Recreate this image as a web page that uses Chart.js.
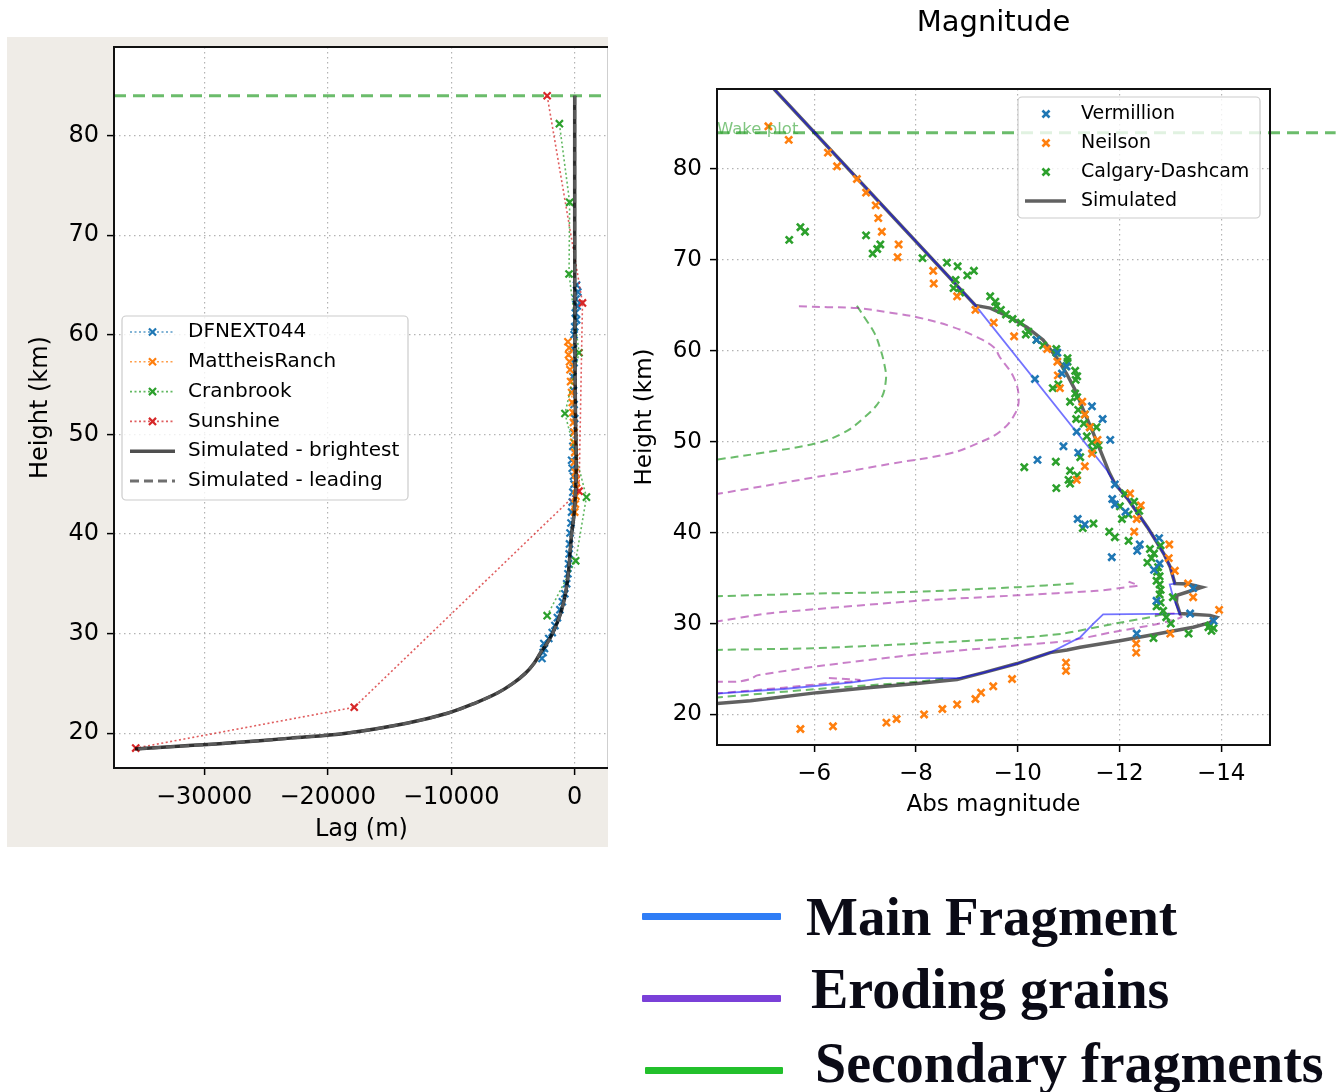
<!DOCTYPE html>
<html>
<head>
<meta charset="utf-8">
<script src="https://cdn.jsdelivr.net/npm/chart.js@4.4.1/dist/chart.umd.min.js"></script>
<style>
  body { margin: 0; background: #fff; width: 1343px; height: 1092px; position: relative; overflow: hidden; }
  #lagBox { position: absolute; left: 7px; top: 37px; width: 601px; height: 810px; background: #efece7; overflow: hidden; }
  #lagInner { position: absolute; left: 0; top: 0; width: 609px; height: 810px; }
  #magBox { position: absolute; left: 620px; top: 0; width: 723px; height: 830px; }
  .swatch { position: absolute; height: 7px; border-radius: 1px; }
  .keytext { position: absolute; font-family: "Liberation Serif", serif; font-weight: bold; font-size: 56px; line-height: 56px; white-space: nowrap; color: #0b0b16; }
</style>
</head>
<body>
<div id="lagBox"><div id="lagInner"><canvas id="lagChart"></canvas></div></div>
<div id="magBox"><canvas id="magChart"></canvas></div>

<div class="swatch" style="left:642px; top:913px; width:139px; background:#2f7df6;"></div>
<div class="keytext" style="left:806px; top:889px; font-size:55px;">Main Fragment</div>
<div class="swatch" style="left:642px; top:995px; width:139px; background:#7a40d8;"></div>
<div class="keytext" style="left:811px; top:961px;">Eroding grains</div>
<div class="swatch" style="left:645px; top:1067px; width:138px; background:#22c02b;"></div>
<div class="keytext" style="left:815px; top:1035px;">Secondary fragments</div>

<script>
'use strict';

// ---- lag plot (left) ----
const lagTicks = [-30000, -20000, -10000, 0];
const heightTicks = [20, 30, 40, 50, 60, 70, 80];

const dfnHeight = [65.0, 64.3, 63.6, 62.9, 62.2, 61.5, 60.8, 60.0, 58.6, 57.2, 55.8, 54.4, 53.0, 51.6, 50.2, 48.8, 47.4, 46.6, 45.8, 45.0, 44.2, 43.2, 42.2, 41.1, 40.1, 39.0, 38.0, 37.0, 36.0, 35.0, 34.0, 33.2, 32.4, 31.6, 30.8, 30.1, 29.5, 29.0, 28.5, 28.1, 27.5];
const dfnLag = [150, 250, 100, 200, 50, 150, 0, -50, -100, -50, -150, -100, -50, 0, -100, -150, -250, -200, -100, -50, -150, -200, -250, -300, -380, -420, -450, -500, -550, -650, -800, -1000, -1200, -1400, -1600, -1820, -2100, -2500, -2450, -2560, -2650];

const matHeight = [59.3, 58.7, 58.0, 57.3, 56.5, 55.3, 54.2, 53.2, 52.2, 51.2, 50.2, 49.2, 48.2, 47.2, 46.2, 45.4, 44.6, 43.8, 43.0, 42.2];
const matLag = [-550, -450, -500, -420, -380, -330, -250, -200, -150, -100, -50, -80, 0, -30, 50, 100, 150, 100, 50, 0];

const craHeight = [81.2, 73.3, 66.1, 58.2, 52.1, 43.7, 37.3, 31.8];
const craLag = [-1240, -410, -460, 350, -790, 950, 80, -2230];

const sunHeight = [84.0, 63.2, 44.3, 22.6, 18.5];
const sunLag = [-2230, 630, 350, -17850, -35540];

const simHeight = [84.0, 70.0, 60.0, 52.0, 48.0, 45.0, 42.0, 40.0, 38.0, 36.0, 34.0, 32.0, 30.0, 29.0, 28.0, 27.0, 26.0, 25.0, 24.0, 23.0, 22.0, 21.0, 20.0, 19.5, 19.0, 18.7, 18.4];
const simLag = [0, 0, 20, 60, 120, 100, -50, -250, -380, -520, -750, -1150, -1800, -2250, -2800, -3300, -4000, -5000, -6300, -8100, -10300, -13600, -18500, -23000, -28000, -31800, -35600];

const wakeLag = [-37300, 2760];
const wakeHeight = [84, 84];

// ---- magnitude plot (right) ----
const magTicks = [-14, -12, -10, -8, -6];

const verMag = [-10.37, -10.78, -10.96, -10.87, -10.34, -11.46, -11.67, -11.16, -11.82, -10.90, -11.19, -10.39, -11.91, -11.86, -11.91, -12.12, -11.18, -11.32, -12.78, -12.40, -12.35, -11.85, -12.79, -12.68, -13.45, -12.73, -13.39, -13.85, -12.34];
const verKm = [61.2, 59.8, 58.3, 57.5, 56.9, 53.9, 52.5, 51.1, 50.2, 49.5, 48.8, 48.0, 45.3, 43.7, 43.1, 42.3, 41.5, 40.9, 39.4, 38.7, 38.0, 37.3, 36.6, 35.9, 33.9, 32.5, 31.1, 30.3, 28.9];

const neiMag = [-5.10, -5.50, -6.27, -6.45, -6.84, -7.02, -7.21, -7.26, -7.33, -7.66, -7.64, -8.34, -8.35, -8.81, -9.17, -9.53, -9.93, -10.58, -10.78, -10.79, -10.83, -11.27, -11.32, -11.42, -11.57, -11.46, -11.32, -11.16, -12.21, -12.42, -12.34, -12.29, -12.98, -12.97, -13.09, -13.35, -13.45, -13.96, -13.00, -12.33, -12.33, -10.95, -10.95, -9.89, -9.52, -9.28, -9.17, -8.81, -8.52, -8.16, -7.62, -7.42, -6.37, -5.73];
const neiKm = [84.7, 83.2, 81.8, 80.3, 78.9, 77.4, 76.0, 74.6, 73.1, 71.7, 70.3, 68.8, 67.4, 66.0, 64.5, 63.1, 61.6, 60.2, 58.8, 57.3, 55.9, 54.4, 53.0, 51.6, 50.2, 48.7, 47.3, 45.8, 44.3, 43.0, 41.5, 40.1, 38.7, 37.2, 35.8, 34.4, 32.9, 31.5, 28.9, 27.8, 26.8, 25.7, 24.8, 23.9, 23.1, 22.4, 21.7, 21.1, 20.6, 20.0, 19.5, 19.1, 18.7, 18.4];

const calMag = [-5.51, -5.73, -5.82, -7.02, -7.15, -7.24, -7.30, -8.13, -8.61, -8.82,
  -9.01, -9.14, -8.78, -8.74, -8.87, -9.46, -9.56, -9.58, -9.67, -9.77,
  -9.90, -10.06, -10.16, -10.21, -10.37, -10.50, -10.76, -10.76, -10.98, -10.98,
  -10.95, -11.13, -11.17, -11.14, -10.69, -10.80, -11.13, -11.17, -11.03, -11.19,
  -11.32, -11.15, -11.30, -11.42, -11.55, -11.36, -11.46, -11.59, -11.48, -11.23,
  -10.75, -10.13, -11.03, -11.17, -11.00, -11.03, -10.76, -12.11, -12.29, -12.01,
  -12.39, -12.18, -12.05, -11.49, -11.28, -11.80, -11.91, -12.18, -12.81, -12.60,
  -12.68, -12.63, -12.55, -12.76, -12.74, -12.79, -12.73, -12.79, -12.81, -12.79,
  -13.05, -12.81, -12.73, -12.86, -12.92, -13.01, -12.67, -13.36, -13.78, -13.81,
  -13.85, -13.75];
const calKm = [72.2, 73.6, 73.1, 72.7, 70.7, 71.2, 71.7, 70.2, 69.7, 69.3,
  68.3, 68.8, 67.8, 66.9, 66.4, 66.0, 65.4, 64.9, 64.5, 64.0,
  63.5, 63.1, 61.8, 62.1, 61.2, 60.6, 60.2, 59.8, 59.2, 58.8,
  58.3, 57.8, 57.2, 56.8, 55.9, 56.3, 55.3, 54.9, 54.4, 53.5,
  53.0, 52.5, 52.0, 51.6, 51.6, 50.6, 49.9, 49.6, 49.1, 48.3,
  47.8, 47.2, 46.8, 46.3, 45.8, 45.4, 44.9, 44.3, 43.4, 42.9,
  42.4, 42.0, 41.5, 41.0, 40.5, 40.1, 39.5, 39.1, 38.6, 38.2,
  37.7, 37.2, 36.7, 36.2, 35.7, 35.2, 34.7, 34.3, 33.7, 33.2,
  32.9, 32.3, 31.9, 31.4, 30.7, 30.0, 28.4, 28.9, 29.8, 29.2,
  29.5, 29.6];

const totMag = [-5.21, -9.17, -9.46, -9.85, -10.18, -10.50, -10.76, -10.96, -11.13, -11.29, -11.46, -11.62, -11.80, -11.91, -12.15, -12.34, -12.55, -12.73, -12.88, -13.00, -13.09, -13.35, -13.62, -13.35, -13.13, -13.12, -13.19, -13.50, -13.78, -13.91, -13.78, -13.45, -12.79, -12.01, -11.23, -10.97, -10.64, -9.99, -9.33, -8.81, -8.02, -7.00, -6.06, -4.75, -4.09];
const totKm = [88.8, 65.0, 64.7, 63.7, 62.6, 61.2, 59.3, 57.5, 55.7, 53.5, 51.3, 49.1, 46.6, 45.4, 43.8, 42.3, 40.6, 39.0, 37.6, 36.2, 34.4, 34.35, 34.0, 33.5, 33.1, 32.3, 31.1, 31.0, 30.9, 30.7, 30.1, 29.6, 28.9, 28.1, 27.4, 27.1, 26.8, 25.6, 24.6, 23.85, 23.4, 22.9, 22.4, 21.5, 21.2];

const mainMag = [-5.21, -9.17, -11.75, -11.91, -12.15, -12.34, -12.55, -12.73, -12.88, -13.00, -13.09, -12.99, -13.05, -13.19, -11.68, -11.49, -11.23, -10.64, -9.99, -9.33, -8.87, -7.37, -6.71, -5.40, -4.09];
const mainKm = [88.8, 65.0, 46.9, 45.4, 43.8, 42.3, 40.6, 39.0, 37.6, 36.2, 34.4, 34.3, 33.0, 31.1, 31.0, 30.0, 28.5, 26.8, 25.6, 24.6, 24.0, 24.0, 23.5, 22.8, 22.3];

// eroding grains (purple dashed)
const ero1Mag = [-5.70, -6.26, -6.84, -7.50, -8.02, -8.68, -9.20, -9.53, -9.65, -9.92, -10.02, -9.95, -9.65, -9.20, -8.66, -7.53, -6.02, -4.14, -4.05];
const ero1Km = [64.9, 64.8, 64.7, 64.2, 63.7, 62.7, 61.5, 60.4, 59.3, 57.1, 54.9, 53.1, 51.1, 49.8, 48.7, 47.6, 46.1, 44.3, 44.25];
const ero2Mag = [-4.05, -5.08, -6.06, -8.02, -9.99, -11.56, -12.14, -12.37, -12.18];
const ero2Km = [30.2, 31.1, 31.6, 32.5, 33.1, 33.6, 34.0, 34.2, 34.6];
const ero3Mag = [-4.05, -4.48, -4.75, -4.88, -6.06, -8.02, -9.99, -11.00, -11.82, -12.79, -13.22, -13.15, -12.70];
const ero3Km = [23.6, 23.6, 23.9, 24.3, 25.3, 26.6, 27.6, 28.1, 29.0, 30.0, 30.7, 31.1, 31.0];
const ero4Mag = [-4.05, -5.40, -6.30, -6.91];
const ero4Km = [22.3, 22.95, 23.45, 23.7];
const ero5Mag = [-6.29, -6.91];
const ero5Km = [24.0, 23.8];

// secondary fragments (green dashed)
const sec1Mag = [-6.84, -7.01, -7.18, -7.29, -7.38, -7.41, -7.30, -6.93, -6.55, -6.02, -4.89, -4.05];
const sec1Km = [64.95, 63.5, 62.0, 60.4, 58.5, 56.8, 54.6, 52.4, 50.9, 49.8, 48.7, 48.0];
const sec2Mag = [-4.05, -6.06, -8.02, -9.99, -11.10];
const sec2Km = [33.0, 33.3, 33.5, 34.0, 34.4];
const sec3Mag = [-4.05, -6.06, -8.02, -9.99, -10.90, -11.82, -12.60, -12.93];
const sec3Km = [27.1, 27.3, 27.8, 28.4, 28.9, 29.9, 30.7, 31.1];
const sec4Mag = [-4.05, -6.06, -8.02, -8.61];
const sec4Km = [21.85, 22.8, 23.6, 24.0];

const wakeMag = [-4.09, -16.25];
const wakeKm = [84, 84];

const FONT = '"DejaVu Sans", sans-serif';
const pts = (xs, ys) => xs.map((x, i) => ({ x: x, y: ys[i] }));
const minus = v => String(v).replace('-', '\u2212');

// white plot area, frame, in-plot legend, text note
const decor = {
  id: 'decor',
  beforeDraw(chart) {
    const a = chart.chartArea, ctx = chart.ctx;
    ctx.save();
    ctx.fillStyle = '#ffffff';
    ctx.fillRect(a.left, a.top, a.right - a.left, a.bottom - a.top);
    ctx.restore();
  },
  afterDatasetsDraw(chart, args, o) {
    const a = chart.chartArea, ctx = chart.ctx;
    ctx.save();
    if (o.note) {
      ctx.font = o.note.size + 'px ' + FONT;
      ctx.fillStyle = o.note.color;
      ctx.textAlign = 'left';
      ctx.textBaseline = 'alphabetic';
      ctx.fillText(o.note.text, a.left, chart.scales.y.getPixelForValue(o.note.at) + 1);
    }
    ctx.strokeStyle = '#111';
    ctx.lineWidth = 2;
    ctx.setLineDash([]);
    ctx.strokeRect(a.left, a.top, a.right - a.left, a.bottom - a.top);

    const k = o.key;
    const items = chart.data.datasets.filter(d => d.keyRank).sort((p, q) => p.keyRank - q.keyRank);
    const bx = a.left + k.x, by = a.top + k.y;
    ctx.fillStyle = 'rgba(255,255,255,0.8)';
    ctx.strokeStyle = '#cccccc';
    ctx.lineWidth = 1.2;
    ctx.beginPath();
    if (ctx.roundRect) ctx.roundRect(bx, by, k.w, k.h, 4); else ctx.rect(bx, by, k.w, k.h);
    ctx.fill();
    ctx.stroke();
    ctx.font = k.size + 'px ' + FONT;
    ctx.textBaseline = 'middle';
    ctx.textAlign = 'left';
    items.forEach((d, i) => {
      const cy = by + k.row0 + i * k.rowH;
      if (d.showLine) {
        ctx.strokeStyle = d.keyColor || d.borderColor;
        ctx.lineWidth = d.borderWidth;
        ctx.setLineDash(d.borderDash || []);
        ctx.beginPath();
        ctx.moveTo(bx + k.l0, cy);
        ctx.lineTo(bx + k.l1, cy);
        ctx.stroke();
        ctx.setLineDash([]);
      }
      if (d.pointRadius > 0) {
        const r = d.pointRadius * 0.707, mx = bx + k.mark;
        ctx.strokeStyle = d.pointBorderColor;
        ctx.lineWidth = d.pointBorderWidth;
        ctx.beginPath();
        ctx.moveTo(mx - r, cy - r); ctx.lineTo(mx + r, cy + r);
        ctx.moveTo(mx - r, cy + r); ctx.lineTo(mx + r, cy - r);
        ctx.stroke();
      }
      ctx.fillStyle = '#000';
      ctx.fillText(d.label, bx + k.text, cy);
    });
    ctx.restore();
  }
};

function axis(min, max, tickList, size, title, titlePad, fit, reverse) {
  return {
    type: 'linear', min: min, max: max, reverse: !!reverse,
    afterBuildTicks: s => { s.ticks = tickList.map(v => ({ value: v })); },
    afterFit: fit,
    ticks: { color: '#000', font: { family: FONT, size: size }, padding: 8, maxRotation: 0, autoSkip: false, callback: v => minus(v) },
    grid: { color: '#b3b3b3', lineWidth: 1.2, borderDash: [1.5, 3.5], tickLength: 7, tickColor: '#000', tickWidth: 1.5, tickBorderDash: [] },
    border: { display: false, dash: [1.5, 3.5] },
    title: { display: true, text: title, color: '#000', font: { family: FONT, size: size }, padding: titlePad }
  };
}

// fixed width for the vertical axis, no extra room for the end labels
const yFit = w => s => { s.width = w; s.paddingTop = 0; s.paddingBottom = 0; };

function dotted(label, rank, color, line, xs, ys) {
  return {
    label: label, keyRank: rank, data: pts(xs, ys), showLine: true,
    borderColor: line, borderWidth: 1.6, borderDash: [2, 2.5],
    pointStyle: 'crossRot', pointRadius: 5, pointBorderColor: color, pointBackgroundColor: color, pointBorderWidth: 2.2
  };
}

function marks(label, rank, color, xs, ys) {
  return {
    label: label, keyRank: rank, data: pts(xs, ys), showLine: false,
    pointStyle: 'crossRot', pointRadius: 5, pointBorderColor: color, pointBackgroundColor: color, pointBorderWidth: 2.6
  };
}

function curve(color, width, dash, xs, ys, tension) {
  return {
    data: pts(xs, ys), showLine: true, borderColor: color, borderWidth: width,
    borderDash: dash, pointRadius: 0, tension: tension
  };
}

const green = 'rgba(44,160,44,0.7)';
const purple = 'rgba(148,0,148,0.5)';

new Chart(document.getElementById('lagChart'), {
  type: 'scatter',
  data: {
    datasets: [
      Object.assign(curve('rgba(95,95,95,0.9)', 3, [9, 5], simLag, simHeight, 0.35), { label: 'Simulated - leading', keyRank: 6 }),
      Object.assign(curve('rgba(0,0,0,0.8)', 3.5, [], simLag, simHeight, 0.35), { label: 'Simulated - brightest', keyRank: 5, keyColor: 'rgba(60,60,60,0.9)' }),
      dotted('Sunshine', 4, '#d62728', 'rgba(214,39,40,0.75)', sunLag, sunHeight),
      dotted('Cranbrook', 3, '#2ca02c', 'rgba(44,160,44,0.75)', craLag, craHeight),
      dotted('MattheisRanch', 2, '#ff7f0e', 'rgba(255,127,14,0.75)', matLag, matHeight),
      dotted('DFNEXT044', 1, '#1f77b4', 'rgba(31,119,180,0.75)', dfnLag, dfnHeight),
      curve(green, 3, [12, 7], wakeLag, wakeHeight, 0)
    ]
  },
  options: {
    responsive: true, maintainAspectRatio: false, animation: false, devicePixelRatio: 1, events: [],
    layout: { padding: { top: 10, right: 0, left: 0, bottom: 0 } },
    scales: {
      x: axis(-37300, 2760, lagTicks, 24, 'Lag (m)', 3, s => { s.height = 79; }),
      y: axis(16.5, 88.9, heightTicks, 24, 'Height (km)', 19, yFit(107))
    },
    plugins: {
      legend: { display: false },
      tooltip: { enabled: false },
      decor: { key: { x: 8, y: 269, w: 286, h: 184, row0: 16, rowH: 29.8, l0: 8, l1: 53, mark: 30.5, text: 66, size: 20 } }
    }
  },
  plugins: [decor]
});

new Chart(document.getElementById('magChart'), {
  type: 'scatter',
  data: {
    datasets: [
      marks('Vermillion', 1, '#1f77b4', verMag, verKm),
      marks('Neilson', 2, '#ff7f0e', neiMag, neiKm),
      marks('Calgary-Dashcam', 3, '#2ca02c', calMag, calKm),
      curve('rgba(0,0,255,0.55)', 1.8, [], mainMag, mainKm, 0),
      Object.assign(curve('rgba(0,0,0,0.62)', 3.5, [], totMag, totKm, 0), { label: 'Simulated', keyRank: 4 }),
      curve(purple, 2, [8, 5], ero1Mag, ero1Km, 0.4),
      curve(green, 2, [8, 5], sec1Mag, sec1Km, 0.4),
      curve(purple, 2, [8, 5], ero2Mag, ero2Km, 0.2),
      curve(green, 2, [8, 5], sec2Mag, sec2Km, 0.2),
      curve(purple, 2, [8, 5], ero3Mag, ero3Km, 0.2),
      curve(green, 2, [8, 5], sec3Mag, sec3Km, 0.2),
      curve(purple, 2, [8, 5], ero4Mag, ero4Km, 0.2),
      curve(purple, 2, [8, 5], ero5Mag, ero5Km, 0),
      curve(green, 2, [8, 5], sec4Mag, sec4Km, 0.2),
      Object.assign(curve(green, 3, [12, 7], wakeMag, wakeKm, 0), { clip: false })
    ]
  },
  options: {
    responsive: true, maintainAspectRatio: false, animation: false, devicePixelRatio: 1, events: [],
    layout: { padding: { top: 0, right: 73, left: 0, bottom: 0 } },
    scales: {
      x: axis(-14.96, -4.09, magTicks, 23, 'Abs magnitude', 11, s => { s.height = 85; }, true),
      y: axis(16.64, 88.8, heightTicks, 23, 'Height (km)', 11, yFit(97))
    },
    plugins: {
      legend: { display: false },
      tooltip: { enabled: false },
      title: { display: true, text: 'Magnitude', fullSize: false, color: '#000', font: { family: FONT, size: 29, weight: 'normal' }, padding: { top: 5.6, bottom: 48.6 } },
      decor: {
        key: { x: 301, y: 8, w: 242, h: 121, row0: 17, rowH: 29, l0: 7, l1: 48, mark: 28, text: 63, size: 19 },
        note: { text: 'Wake plot', at: 84, size: 16.5, color: 'rgba(44,160,44,0.6)' }
      }
    }
  },
  plugins: [decor]
});
</script>
</body>
</html>
